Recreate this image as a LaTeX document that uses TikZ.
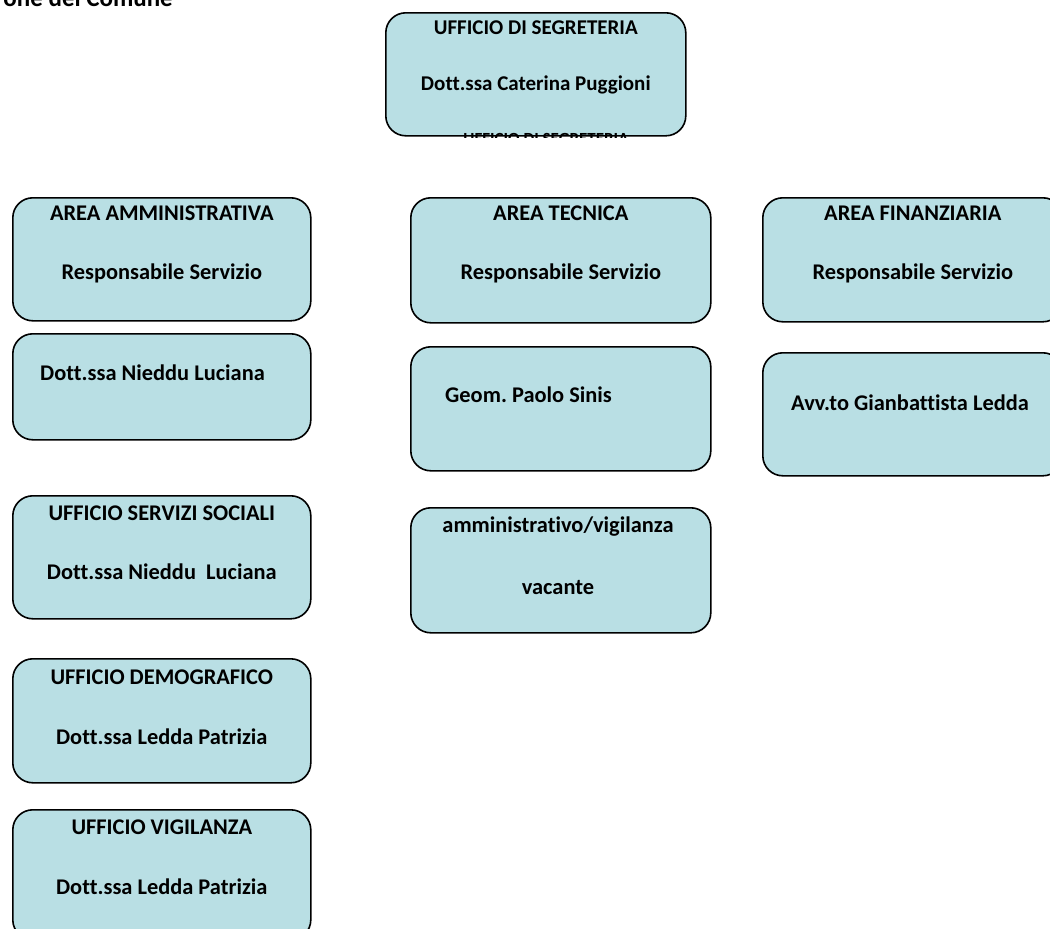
\documentclass[tikz,border=0pt]{standalone}
\usepackage{fontspec}
\setmainfont[Ligatures=NoCommon]{Carlito}
\usetikzlibrary{calc}
\definecolor{boxfill}{HTML}{B9DFE4}
\frenchspacing
\begin{document}
\begin{tikzpicture}[x=1pt,y=-1pt,
  orgbox/.style={draw=black, line width=1.6pt, fill=boxfill, rounded corners=20pt,
    inner sep=0pt, anchor=north west},
  lbl/.style={font=\bfseries\fontsize{22.4}{26}\selectfont, inner sep=0pt, anchor=base},
  lbll/.style={lbl, anchor=base west},
  lbltop/.style={lbl, font=\bfseries\fontsize{21}{25}\selectfont}]
\useasboundingbox (0,0) rectangle (1050,929);
\fill[white] (0,0) rectangle (1050,929);

% header fragment
\node[lbl, anchor=base east, font=\bfseries\fontsize{25}{30}\selectfont] (hdr) at (173,6) {one del Comune};

% top box
\node[orgbox, minimum width=300pt, minimum height=123pt] (segr) at (385,12) {};
\node[lbltop] (segrT) at ($(segr.north)+(0,22)$) {UFFICIO DI SEGRETERIA};
\node[lbltop] (segrN) at ($(segr.north)+(0,78)$) {Dott.ssa Caterina Puggioni};
\begin{scope}
  \clip (380,100) rectangle (690,137.5);
  \node[lbl, font=\bfseries\fontsize{17}{20}\selectfont] (segrX) at (546,144) {UFFICIO DI SEGRETERIA};
\end{scope}

% areas
\node[orgbox, minimum width=298pt, minimum height=123pt] (amm) at (12,197) {};
\node[lbl] (ammT) at ($(amm.north)+(0,23)$) {AREA AMMINISTRATIVA};
\node[lbl] (ammR) at ($(amm.north)+(0,82)$) {Responsabile Servizio};

\node[orgbox, minimum width=300pt, minimum height=125pt] (tec) at (410,197) {};
\node[lbl] (tecT) at ($(tec.north)+(0,23)$) {AREA TECNICA};
\node[lbl] (tecR) at ($(tec.north)+(0,82)$) {Responsabile Servizio};

\node[orgbox, minimum width=300pt, minimum height=124pt] (fin) at (762,197) {};
\node[lbl] (finT) at ($(fin.north)+(0,23)$) {AREA FINANZIARIA};
\node[lbl] (finR) at ($(fin.north)+(0,82)$) {Responsabile Servizio};

% responsibles
\node[orgbox, minimum width=298pt, minimum height=106pt] (nied) at (12,333) {};
\node[lbll] (niedN) at (40,380) {Dott.ssa Nieddu Luciana};

\node[orgbox, minimum width=300pt, minimum height=124pt] (sinis) at (410,346) {};
\node[lbll] (sinisN) at (445,402) {Geom. Paolo Sinis};

\node[orgbox, minimum width=300pt, minimum height=123pt] (avv) at (762,352) {};
\node[lbl] (avvN) at (910,410) {Avv.to Gianbattista Ledda};

\node[orgbox, minimum width=300pt, minimum height=125pt] (amv) at (410,507) {};
\node[lbl] (amvT) at (558,532) {amministrativo/vigilanza};
\node[lbl] (amvN) at (558,594) {vacante};

% offices
\node[orgbox, minimum width=298pt, minimum height=123pt] (soc) at (12,495) {};
\node[lbl] (socT) at ($(soc.north)+(0,25)$) {UFFICIO SERVIZI SOCIALI};
\node[lbl] (socN) at ($(soc.north)+(0,84)$) {Dott.ssa Nieddu\ \ Luciana};

\node[orgbox, minimum width=298pt, minimum height=124pt] (demo) at (12,658) {};
\node[lbl] (demoT) at ($(demo.north)+(0,26)$) {UFFICIO DEMOGRAFICO};
\node[lbl] (demoN) at ($(demo.north)+(0,86)$) {Dott.ssa Ledda Patrizia};

\node[orgbox, minimum width=298pt, minimum height=130pt] (vig) at (12,809) {};
\node[lbl] (vigT) at ($(vig.north)+(0,25)$) {UFFICIO VIGILANZA};
\node[lbl] (vigN) at ($(vig.north)+(0,85)$) {Dott.ssa Ledda Patrizia};
\end{tikzpicture}
\end{document}
